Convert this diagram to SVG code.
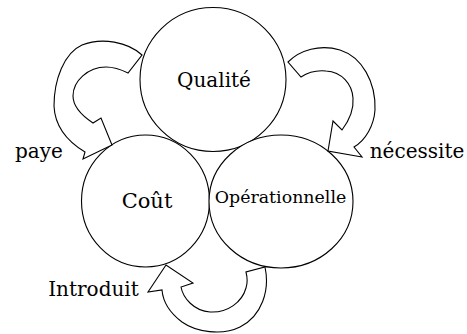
<svg xmlns="http://www.w3.org/2000/svg" width="467" height="334" viewBox="0 0 467 334">
<style>
.node{fill:#fff;stroke:#000;stroke-width:1.1}
.arr{fill:#fff;stroke:#000;stroke-width:1.1;stroke-linejoin:miter}
text{font-family:"DejaVu Serif","Liberation Serif",serif;fill:#000;text-anchor:middle}
.lbl{font-size:20px}
</style>
<rect width="467" height="334" fill="#fff"/>
<g id="qualite"><ellipse class="node" cx="213" cy="79.5" rx="73" ry="72"/><text class="lbl" x="214" y="87">Qualité</text></g>
<g id="cout"><ellipse class="node" cx="145.5" cy="201" rx="64" ry="66"/><text x="147" y="208" font-size="21">Coût</text></g>
<g id="operationnelle"><ellipse class="node" cx="281" cy="201.5" rx="72" ry="66.5"/><text x="280.5" y="203" font-size="17.4">Opérationnelle</text></g>
<g id="connectors">
<g id="paye"><path class="arr" d="M142,55 C128,42 102,37 82,45 C64,53 54,80 54,106 C55,128 70,143 85,152 L83,159 L112,145 L101,118 L93,123 C81,115 73,106 73,96 C73,81 88,67 106,67 C114,67 122,70 128,73 Z"/><text class="lbl" x="39" y="158">paye</text></g>
<g id="necessite"><path class="arr" d="M288,62 C300,50 320,44 340,50 C362,57 376,82 375,110 C374,125 366,140 354,147 L362,157 L328,151 L333,121 L342,130 C348,122 354,110 353,98 C352,84 342,72 326,71 C316,70 307,73 301,77 Z"/><text class="lbl" x="417" y="158">nécessite</text></g>
<g id="introduit"><path class="arr" d="M265,267 C270,290 262,316 240,327 C222,336 196,332 182,322 C170,313 163,302 162,290 L148,292 L166,265 L193,283 L181,287 C183,298 194,311 210,312 C228,313 242,302 246,288 C248,282 247,276 246,272 Z"/><text class="lbl" x="93.5" y="296">Introduit</text></g>
</g>
</svg>
